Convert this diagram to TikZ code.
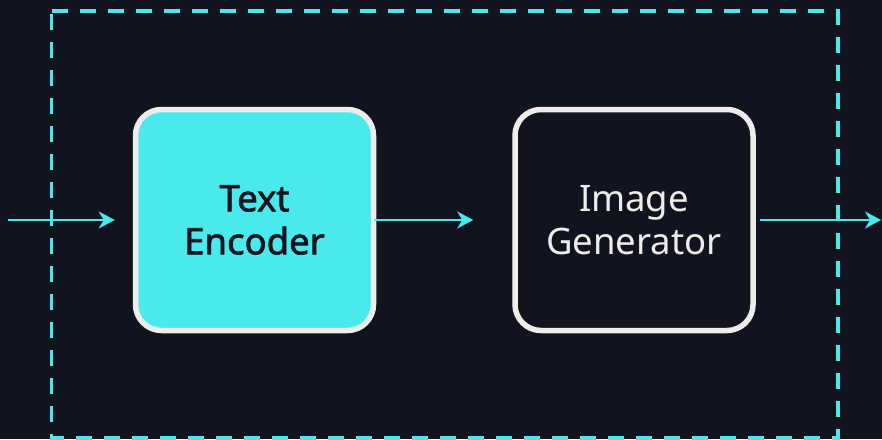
\documentclass[tikz,border=0pt]{standalone}
\usepackage{fontspec}
\setmainfont{Noto Sans}
\newfontfamily\medfont[FakeBold=1.8]{Noto Sans}
\usetikzlibrary{arrows.meta}

\definecolor{bgdark}{HTML}{11141F}
\definecolor{accent}{HTML}{4AE9EC}
\definecolor{rim}{HTML}{EFEDE9}
\definecolor{inktext}{HTML}{111520}

\tikzset{
  stage/.style={draw=rim, line width=5.5pt, rounded corners=26pt,
    minimum width=238pt, minimum height=221pt, align=center,
    font=\fontsize{36.5}{43}\selectfont, inner sep=0pt},
  flow/.style={draw=accent, line width=2.2pt,
    -{Stealth[length=16pt, width=17pt, inset=5pt]}},
  frame/.style={draw=accent, line width=3.3pt, dash pattern=on 16pt off 12pt}
}

\begin{document}
\begin{tikzpicture}[x=1pt, y=-1pt]
  \fill[bgdark] (0,0) rectangle (882,439);
  \useasboundingbox (0,0) rectangle (882,439);

  % dashed system boundary
  \draw[frame] (51.5,11) -- (838,11) -- (838,438) -- (51.5,438) -- cycle;

  % processing stages
  \node[stage, fill=accent, text=inktext] (enc) at (254.5,220)
    {\medfont Text\\\medfont Encoder};
  \node[stage, fill=bgdark, text=rim] (gen) at (634,220)
    {Image\\Generator};

  % data flow
  \coordinate (src) at (8,220);
  \coordinate (dst) at (881,220);
  \draw[flow, shorten >=18pt] (src) -- (enc.west);
  \draw[flow, shorten <=-2pt, shorten >=39pt] (enc.east) -- (gen.west);
  \draw[flow, shorten <=4pt] (gen.east) -- (dst);
\end{tikzpicture}
\end{document}
